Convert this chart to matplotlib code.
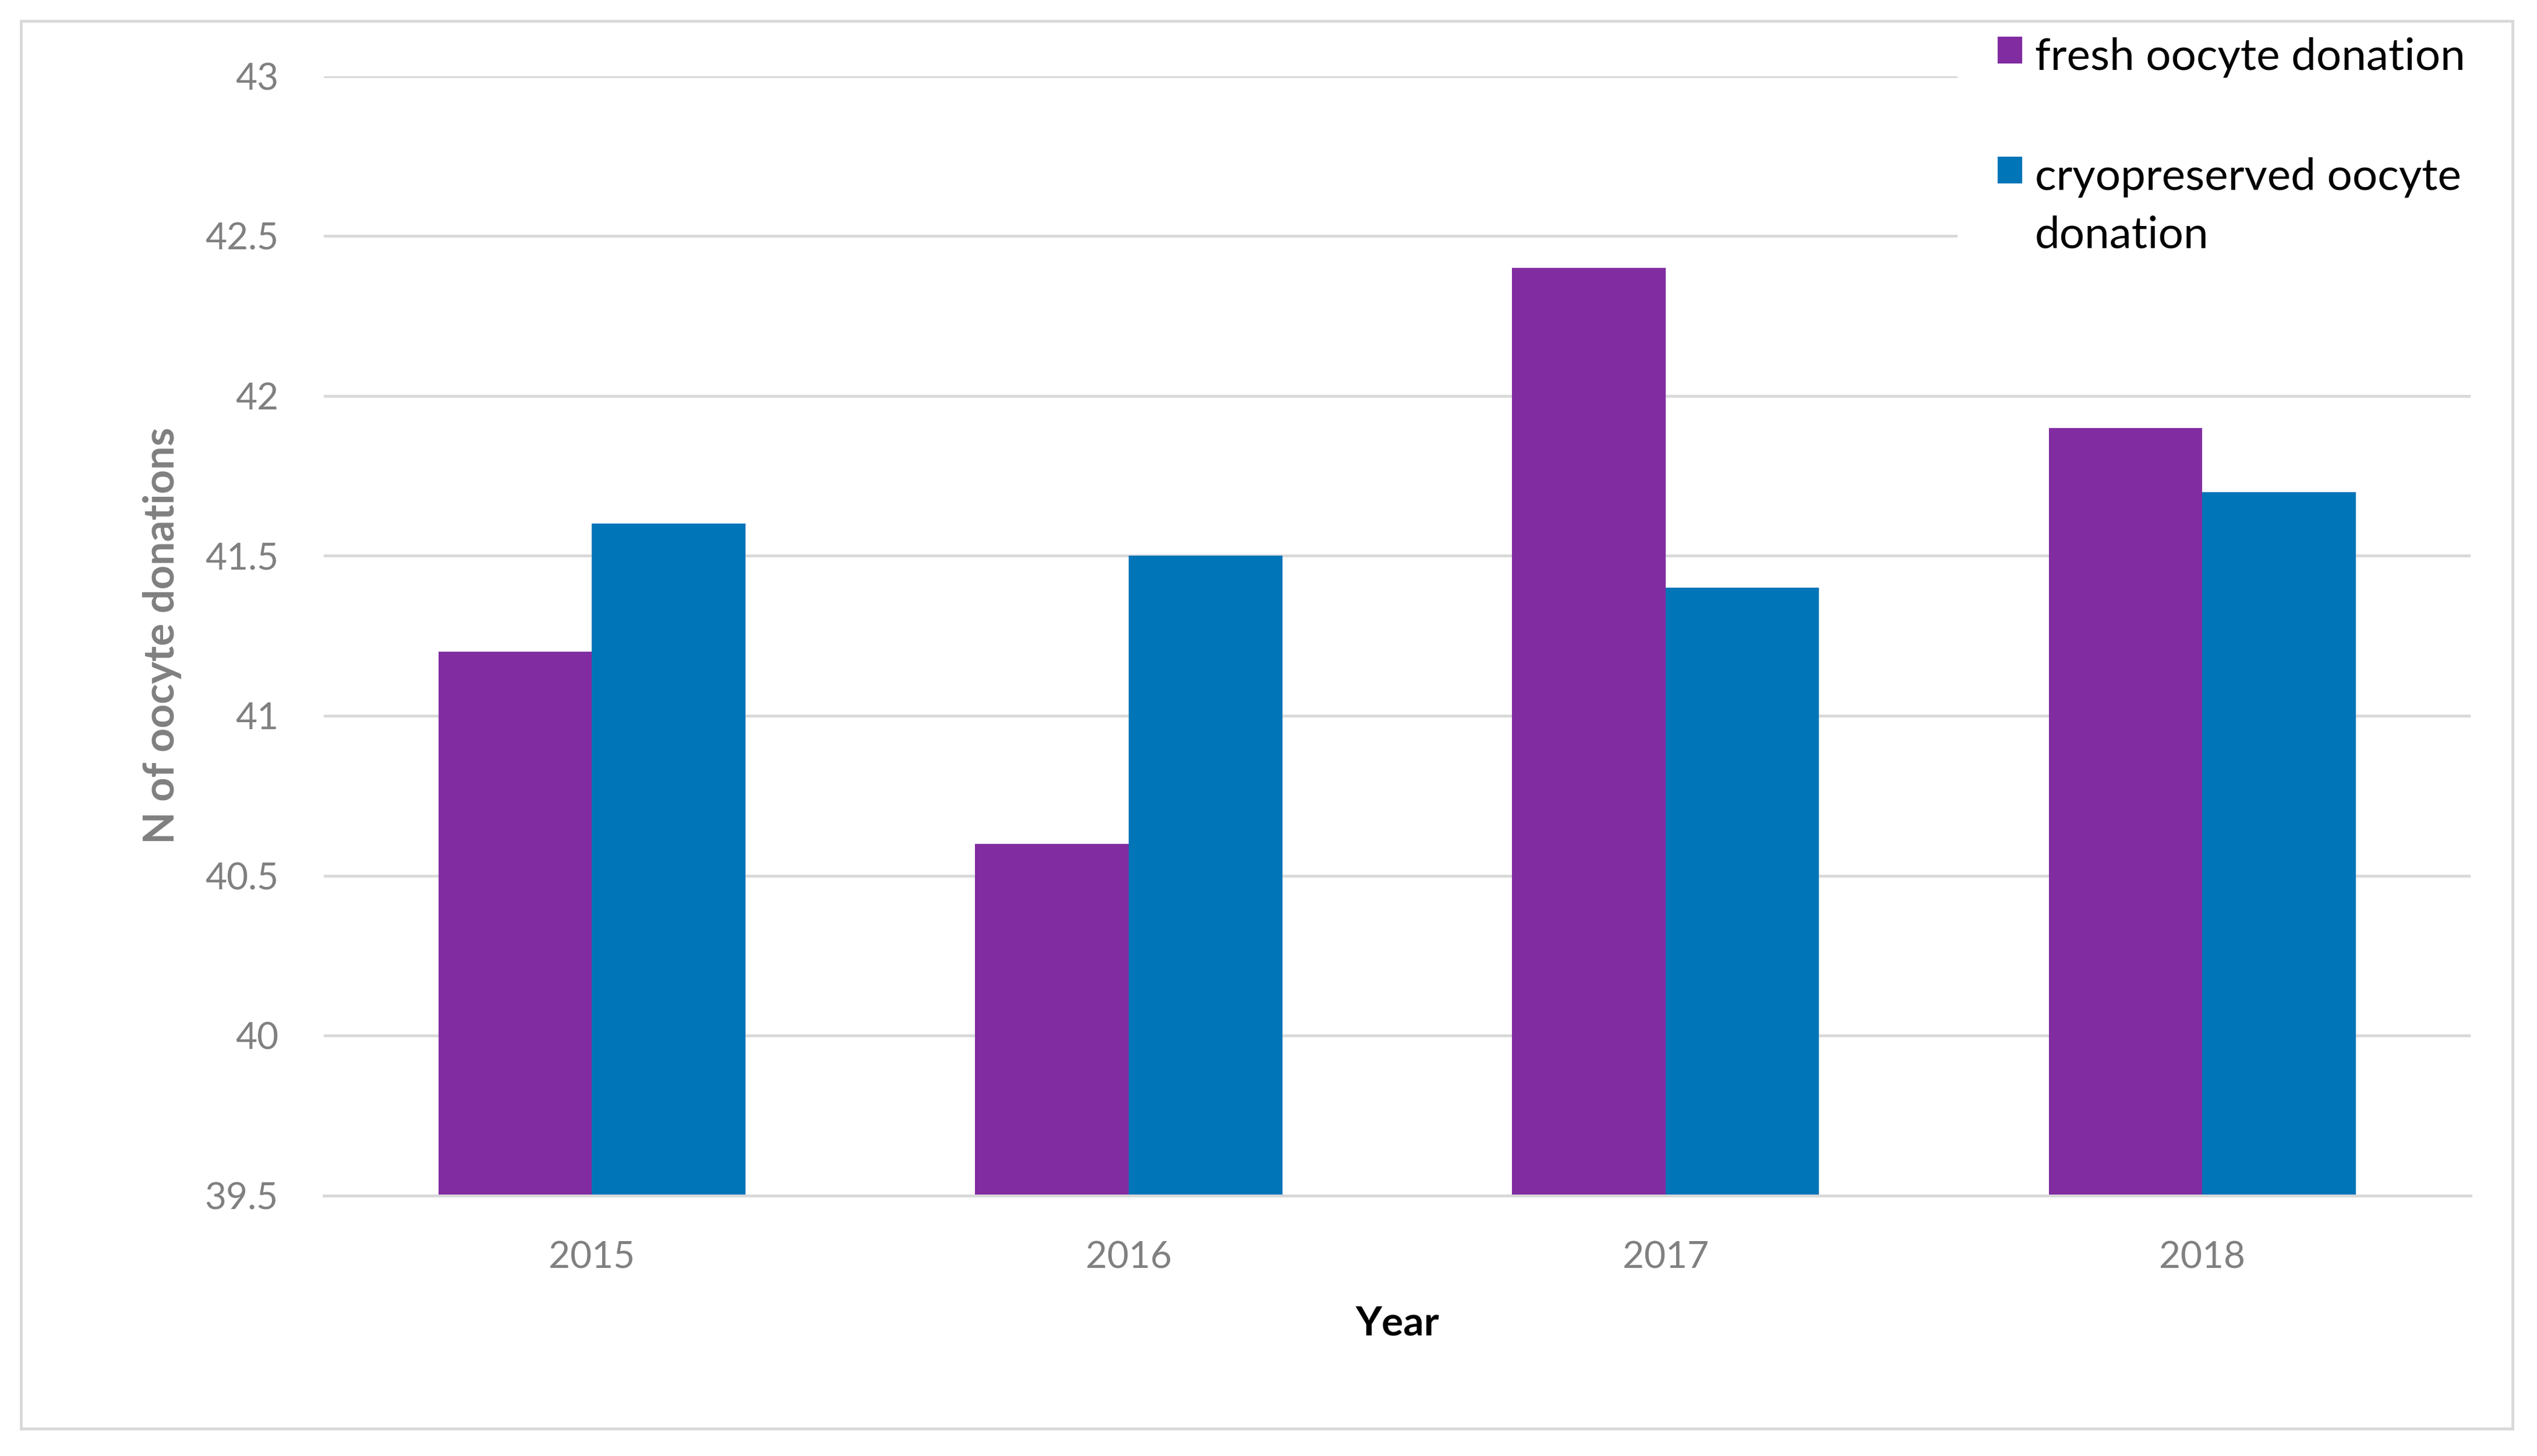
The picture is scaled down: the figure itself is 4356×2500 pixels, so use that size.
import numpy as np
import matplotlib.pyplot as plt
from matplotlib.patches import Rectangle

# data
years = ['2015', '2016', '2017', '2018']
fresh = [41.2, 40.6, 42.4, 41.9]
cryo = [41.6, 41.5, 41.4, 41.7]
series_labels = ['fresh oocyte donation', 'cryopreserved oocyte\ndonation']
yticks = [39.5, 40, 40.5, 41, 41.5, 42, 42.5, 43]

purple = '#812CA1'
blue = '#0075B8'
grey_txt = '#808080'
grid_col = '#D9D9D9'

plt.rcParams['font.family'] = ['Lato', 'DejaVu Sans']

fig = plt.figure(figsize=(21.78, 12.5), dpi=200)
ax = fig.add_axes([200/1568, 1-739/900, 1327/1568, 692/900])

x = np.arange(len(years))
w = 0.286
ax.bar(x - w/2, fresh, w, color=purple, label=series_labels[0])
ax.bar(x + w/2, cryo, w, color=blue, label=series_labels[1])

ax.set_xlim(-0.5, 3.5)
ax.set_ylim(39.5, 43)
ax.set_yticks(yticks)
ax.set_yticklabels([('%g' % v) for v in yticks])
ax.set_xticks(x)
ax.set_xticklabels(years)
ax.tick_params(axis='both', length=0, pad=28, labelsize=23, labelcolor=grey_txt)

ax.set_axisbelow(True)
ax.yaxis.grid(True, color=grid_col, linewidth=1.75)
for s in ['top', 'right', 'left']:
    ax.spines[s].set_visible(False)
ax.spines['bottom'].set_color(grid_col)
ax.spines['bottom'].set_linewidth(1.75)

ax.set_ylabel('N of oocyte donations', fontsize=26, fontweight='bold', color=grey_txt)
ax.yaxis.set_label_coords(-0.066, 0.5)
ax.set_xlabel('Year', fontsize=25, fontweight='bold', color='black')
ax.xaxis.set_label_coords(0.5, -0.098)

fs = 27.5
leg = ax.legend(loc='upper left', bbox_to_anchor=(1210/1568, 1+2/900),
                bbox_transform=fig.transFigure, fontsize=fs, borderaxespad=0,
                frameon=True, fancybox=False, facecolor='white', edgecolor='none',
                framealpha=1, borderpad=0.9, handlelength=15/fs, handleheight=15/fs,
                handletextpad=8/fs, labelspacing=1.79)
for t in leg.get_texts():
    t.set_linespacing(1.55)
# keep the colour square next to the first line of a wrapped label
for col in leg._legend_handle_box.get_children():
    for item in col.get_children():
        item.align = 'top'

# outer chart frame
fig.add_artist(Rectangle((13/1568, 1-883/900), 1540/1568, 870/900,
                         transform=fig.transFigure, fill=False,
                         edgecolor=grid_col, linewidth=1.75))

fig.savefig('out.png', dpi=200, facecolor='white')
